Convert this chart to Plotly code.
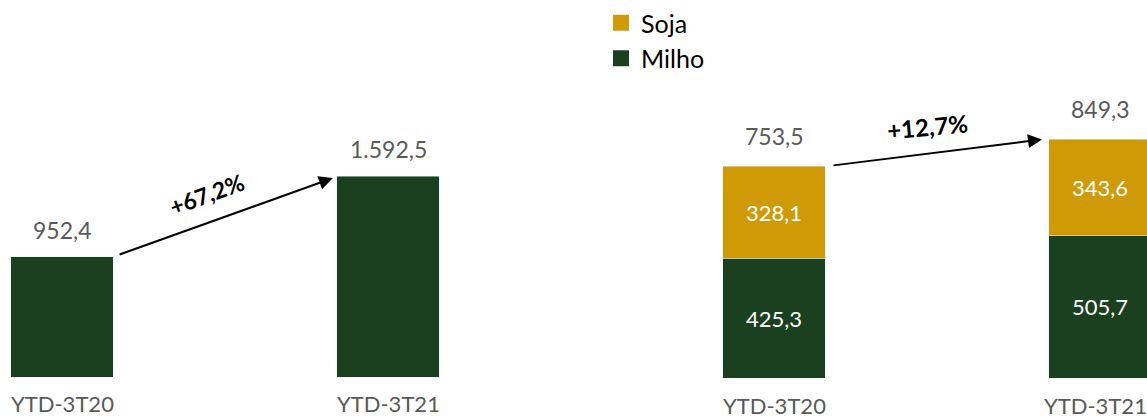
import plotly.graph_objects as go

categories = ["YTD-3T20", "YTD-3T21"]
total_left = [952.4, 1592.5]
milho = [425.3, 505.7]
soja = [328.1, 343.6]
total_right = [753.5, 849.3]
growth_left = "+67,2%"
growth_right = "+12,7%"

GREEN = "#1B4020"
GOLD = "#D09A06"
GRAY = "#595959"
FONT = "Lato"

def fmt(v):
    s = f"{v:,.1f}"
    return s.replace(",", "X").replace(".", ",").replace("X", ".")

xpos = [0, 1]
fig = go.Figure()

fig.add_trace(go.Bar(x=xpos, y=total_left, marker_color=GREEN, width=0.313,
                     xaxis="x", yaxis="y", showlegend=False, hoverinfo="skip"))
fig.add_trace(go.Bar(x=xpos, y=milho, marker_color=GREEN, width=0.313,
                     xaxis="x2", yaxis="y2", showlegend=False,
                     text=[fmt(v) for v in milho], textposition="inside",
                     insidetextanchor="middle",
                     textfont=dict(color="white", size=22, family=FONT)))
fig.add_trace(go.Bar(x=xpos, y=soja, marker_color=GOLD, width=0.313,
                     xaxis="x2", yaxis="y2", showlegend=False,
                     text=[fmt(v) for v in soja], textposition="inside",
                     insidetextanchor="middle",
                     textfont=dict(color="white", size=22, family=FONT)))

# legend proxies
fig.add_trace(go.Scatter(x=[None], y=[None], mode="markers", name="Milho",
                         marker=dict(symbol="square", size=21, color=GREEN),
                         xaxis="x2", yaxis="y2"))
fig.add_trace(go.Scatter(x=[None], y=[None], mode="markers", name="Soja",
                         marker=dict(symbol="square", size=21, color=GOLD),
                         xaxis="x2", yaxis="y2"))

ann = []
# totals
for i, v in enumerate(total_left):
    ann.append(dict(x=xpos[i], y=v, xref="x", yref="y", text=fmt(v), showarrow=False,
                    yshift=27, font=dict(size=23, color=GRAY, family=FONT)))
for i, v in enumerate(total_right):
    ann.append(dict(x=xpos[i], y=v, xref="x2", yref="y2", text=fmt(v), showarrow=False,
                    yshift=30, font=dict(size=23, color=GRAY, family=FONT)))
# category labels
for i, c in enumerate(categories):
    ann.append(dict(x=xpos[i], y=0, xref="x", yref="y", text=c, showarrow=False,
                    yshift=-26, font=dict(size=22, color=GRAY, family=FONT)))
    ann.append(dict(x=xpos[i], y=0, xref="x2", yref="y2", text=c, showarrow=False,
                    yshift=-27, xshift=-5 if i == 1 else 0,
                    font=dict(size=22, color=GRAY, family=FONT)))
# arrows
ann.append(dict(x=0.831, y=1578, ax=0.172, ay=967, xref="x", yref="y", axref="x", ayref="y",
                showarrow=True, arrowhead=2, arrowsize=1.4, arrowwidth=2, arrowcolor="black", text=""))
ann.append(dict(x=0.822, y=848, ax=0.178, ay=755, xref="x2", yref="y2", axref="x2", ayref="y2",
                showarrow=True, arrowhead=2, arrowsize=1.4, arrowwidth=2, arrowcolor="black", text=""))
ann.append(dict(x=(207 - 62) / 326, y=(377 - 194) * 7.93, xref="x", yref="y", text="<b>" + growth_left + "</b>",
                showarrow=False, textangle=-20, font=dict(size=23, color="black", family=FONT)))
ann.append(dict(x=(927 - 774) / 326, y=(378.5 - 127) * 3.554, xref="x2", yref="y2", text="<b>" + growth_right + "</b>",
                showarrow=False, textangle=-5, font=dict(size=24, color="black", family=FONT)))

fig.update_layout(
    width=1147, height=418,
    margin=dict(l=0, r=0, t=0, b=0),
    paper_bgcolor="white", plot_bgcolor="white",
    barmode="stack",
    xaxis=dict(domain=[0, 500 / 1147], range=[-62 / 326, 438 / 326], visible=False),
    yaxis=dict(range=[-325, 2990], visible=False),
    xaxis2=dict(domain=[600 / 1147, 1], range=[-174 / 326, 373 / 326], visible=False, anchor="y2"),
    yaxis2=dict(range=[-40 * 3.554, 378 * 3.554], visible=False, anchor="x2"),
    legend=dict(x=601 / 1147, y=1.0, xanchor="left", yanchor="top", traceorder="reversed",
                font=dict(size=25, color="black", family=FONT), bgcolor="rgba(0,0,0,0)",
                tracegroupgap=0),
    annotations=ann,
    showlegend=True,
)

fig.write_html("out.html", config={"displayModeBar": False},
               post_script="document.body.style.margin='0';document.body.style.overflow='hidden';")
